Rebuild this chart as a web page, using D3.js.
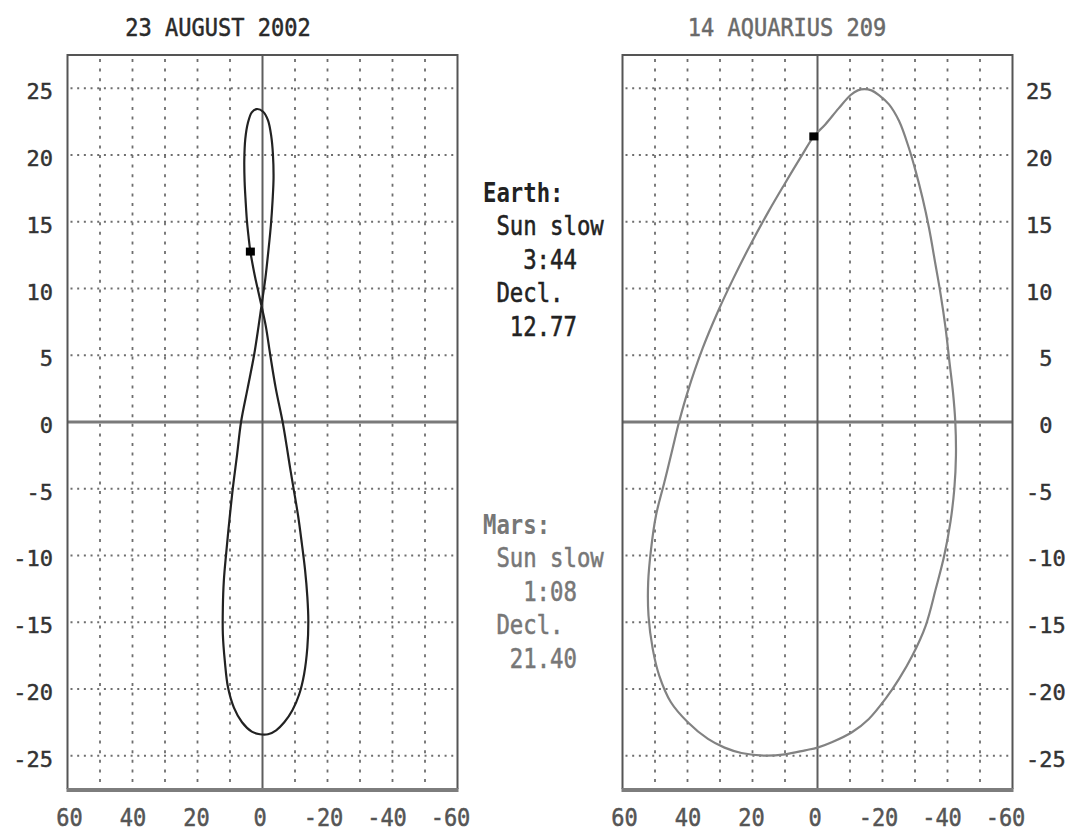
<!DOCTYPE html>
<html>
<head>
<meta charset="utf-8">
<script src="https://cdn.jsdelivr.net/npm/d3@7"></script>
<style>
  body { margin: 0; background: #fff; }
  svg { display: block; }
  text { font-family: "DejaVu Sans Mono", "Liberation Mono", monospace; }
</style>
</head>
<body>
<svg id="chart" width="1068" height="839"></svg>
<script>
// ---- data -------------------------------------------------------------
// x: minutes the Sun runs slow (+) or fast (-), y: declination in degrees
const xTicks = [60, 40, 20, 0, -20, -40, -60];
const yTicks = [25, 20, 15, 10, 5, 0, -5, -10, -15, -20, -25];
const xGrid = [50, 40, 30, 20, 10, -10, -20, -30, -40, -50];
const yGrid = [25, 20, 15, 10, 5, -5, -10, -15, -20, -25];

const earthTitle = "23 AUGUST 2002";
const marsTitle = "14 AQUARIUS 209";

const earthSunSlow = "3:44";
const earthDecl = 12.77;
const marsSunSlow = "1:08";
const marsDecl = 21.40;

// Earth analemma, one year, starting at the June solstice
const earthLoop = [
  [1.8, 23.45], [3.3, 23.2], [4.5, 22.4], [5.3, 21.2], [5.6, 19.6],
  [5.5, 18.0], [5.2, 16.6], [4.8, 15.1], [4.3, 13.9], [3.73, 12.77],
  [2.4, 11.0], [1.5, 10.0], [0.3, 8.7], [-1.0, 7.2], [-2.4, 5.0],
  [-4.1, 2.5], [-6.2, 0], [-7.5, -1.9], [-8.4, -3.3], [-9.5, -4.9],
  [-11.0, -7.1], [-12.1, -9.1], [-13.1, -11.1], [-13.8, -13.1], [-14.1, -14.9],
  [-13.8, -16.9], [-12.8, -18.9], [-11.3, -20.4], [-9.2, -21.6], [-6.7, -22.5],
  [-4.2, -23.1], [-1.7, -23.4], [0.8, -23.4], [3.3, -23.2], [6.3, -22.5],
  [8.8, -21.4], [10.6, -19.9], [11.6, -17.9], [12.2, -15.9], [12.2, -13.9],
  [11.9, -11.9], [11.2, -9.9], [10.2, -7.4], [9.1, -4.9], [7.8, -2.4],
  [6.6, 0], [4.6, 2.5], [2.6, 5.0], [1.2, 7.2], [0.2, 8.9],
  [-0.9, 10.8], [-1.8, 12.8], [-2.6, 14.8], [-3.1, 16.6], [-3.4, 18.3],
  [-3.2, 20.1], [-2.7, 21.4], [-1.7, 22.6], [-0.2, 23.25]
];

// Mars analemma, one Martian year
const marsLoop = [
  [1.13, 21.4], [-2.4, 22.3], [-6.5, 23.5], [-10.2, 24.5], [-12.4, 24.85],
  [-14.4, 24.95], [-16.6, 24.85], [-18.9, 24.5], [-22.0, 23.8], [-25.1, 22.55],
  [-28.1, 20.55], [-30.2, 18.8], [-32.3, 16.8], [-34.3, 14.55], [-36.3, 11.8],
  [-37.9, 9.55], [-39.4, 7.05], [-40.6, 4.5], [-41.7, 2.2], [-42.4, 0],
  [-42.6, -2.5], [-42.1, -5], [-40.9, -7.5], [-39.0, -10], [-36.4, -12.5],
  [-33.3, -15.25], [-29.2, -17.5], [-25.1, -19.25], [-20.9, -20.75], [-15.8, -22.25],
  [-10.6, -23.25], [-4.4, -24.0], [0, -24.4], [3.8, -24.6], [10.0, -24.9],
  [16.2, -25.0], [23.4, -24.8], [28.6, -24.4], [33.7, -23.75], [39.9, -22.5],
  [45.1, -21], [48.7, -19], [50.7, -17], [52.0, -14.5], [52.1, -12],
  [51.2, -9.5], [49.7, -7], [47.1, -4.5], [44.6, -2], [42.6, 0],
  [39.9, 2.3], [35.3, 5.55], [30.6, 8.3], [25.8, 10.8], [20.6, 13.3],
  [15.0, 15.8], [10.2, 17.8], [5.0, 19.9]
];

// ---- helpers ----------------------------------------------------------
const minutes = s => { const [m, sec] = s.split(":").map(Number); return m + sec / 60; };

const svg = d3.select("#chart");
svg.append("rect").attr("width", 1068).attr("height", 839).attr("fill", "#fff");

const plotTop = 55, plotBottom = 789;
const y = d3.scaleLinear().domain([-27.5, 27.5]).range([plotBottom, plotTop]);

const EARTH_INK = "#222";
const MARS_INK = "#828282";
const GRID_INK = "#6e6e6e";
const FRAME_INK = "#555";

function stretchedText(g, str, x, yy, opts) {
  const weight = opts.weight || "normal";
  return g.append("text")
    .attr("transform", `translate(${x},${yy}) scale(1,${opts.sy || 1})`)
    .attr("text-anchor", opts.anchor || "start")
    .attr("font-size", opts.size || 22)
    .attr("font-weight", weight)
    .attr("fill", opts.fill)
    .attr("stroke", weight === "normal" ? opts.fill : "none")
    .attr("stroke-width", 0.45)
    .style("white-space", "pre")
    .text(str);
}

function panel(x0, x1, loop, ink, nowX, nowY, title, titleX, titleInk) {
  const x = d3.scaleLinear().domain([60, -60]).range([x0, x1]);
  // tick labels sit on the text grid, slightly tighter than the plot frame
  const xLabel = d3.scaleLinear().domain([60, -60]).range([x0 + 2, x1 - 7]);
  const g = svg.append("g");

  // dotted grid
  g.selectAll("line.hg").data(yGrid).join("line")
    .attr("x1", x0 + 3).attr("x2", x1 - 2)
    .attr("y1", d => y(d)).attr("y2", d => y(d))
    .attr("stroke", GRID_INK).attr("stroke-width", 2)
    .attr("stroke-dasharray", "2 4.68");
  g.selectAll("line.vg").data(xGrid).join("line")
    .attr("x1", d => x(d)).attr("x2", d => x(d))
    .attr("y1", plotTop + 4).attr("y2", plotBottom - 2)
    .attr("stroke", GRID_INK).attr("stroke-width", 1.8)
    .attr("stroke-dasharray", "3 6.6");

  // zero axes
  g.append("line").attr("x1", x0).attr("x2", x1)
    .attr("y1", y(0)).attr("y2", y(0))
    .attr("stroke", "#7a7a7a").attr("stroke-width", 3);
  g.append("line").attr("x1", x(0)).attr("x2", x(0))
    .attr("y1", plotTop).attr("y2", plotBottom)
    .attr("stroke", "#5e5e5e").attr("stroke-width", 2);

  // frame
  g.append("path")
    .attr("d", `M${x0},${plotBottom}V${plotTop}H${x1}V${plotBottom}`)
    .attr("fill", "none").attr("stroke", FRAME_INK).attr("stroke-width", 2);
  g.append("line").attr("x1", x0 - 1).attr("x2", x1 + 1)
    .attr("y1", plotBottom + 1).attr("y2", plotBottom + 1)
    .attr("stroke", "#7d7d7d").attr("stroke-width", 4);

  // analemma
  const line = d3.line().x(d => x(d[0])).y(d => y(d[1])).curve(d3.curveCatmullRomClosed.alpha(0.5));
  g.append("path").datum(loop).attr("d", line)
    .attr("fill", "none").attr("stroke", ink).attr("stroke-width", 2.2)
    .attr("stroke-linejoin", "round");

  // today's position
  g.append("rect")
    .attr("x", x(nowX) - 4.5).attr("y", y(nowY) - 4)
    .attr("width", 9).attr("height", 8).attr("fill", "#000");

  // x tick labels
  xTicks.forEach(t => {
    stretchedText(g, String(t), xLabel(t), 826, { anchor: "middle", fill: "#555", sy: 1.15 });
  });

  // title
  stretchedText(g, title, titleX, 36, { anchor: "middle", fill: titleInk, sy: 1.15 });
  return x;
}

panel(67.5, 457.5, earthLoop, EARTH_INK, minutes(earthSunSlow), earthDecl, earthTitle, 218, "#2a2a2a");
panel(622.5, 1012.5, marsLoop, MARS_INK, minutes(marsSunSlow), marsDecl, marsTitle, 787, "#6a6a6a");

// y tick labels on both outer sides
const labels = svg.append("g");
yTicks.forEach(t => {
  const s = String(t);
  stretchedText(labels, s, 53, y(t) + 11, { anchor: "end", fill: "#333" });
  const cell = 13.3;
  const xs = 1026 + cell * Math.max(0, 2 - s.length);
  stretchedText(labels, s, xs, y(t) + 11, { anchor: "start", fill: "#333" });
});

// readouts between the panels
const cellW = 13.4, rowH = 33.4;
function readout(name, slow, decl, ink, baseY) {
  const g = svg.append("g");
  const rows = [
    [name, 0, "bold"],
    ["Sun slow", 1, "normal"],
    [slow, 3, "normal"],
    ["Decl.", 1, "normal"],
    [decl.toFixed(2), 2, "normal"]
  ];
  rows.forEach((r, i) => {
    stretchedText(g, r[0], 483 + r[1] * cellW, baseY + i * rowH,
      { fill: ink, weight: r[2], sy: 1.2, size: 22.3 });
  });
}
readout("Earth:", earthSunSlow, earthDecl, "#222", 202);
readout("Mars:", marsSunSlow, marsDecl, "#777", 534);
</script>
</body>
</html>
